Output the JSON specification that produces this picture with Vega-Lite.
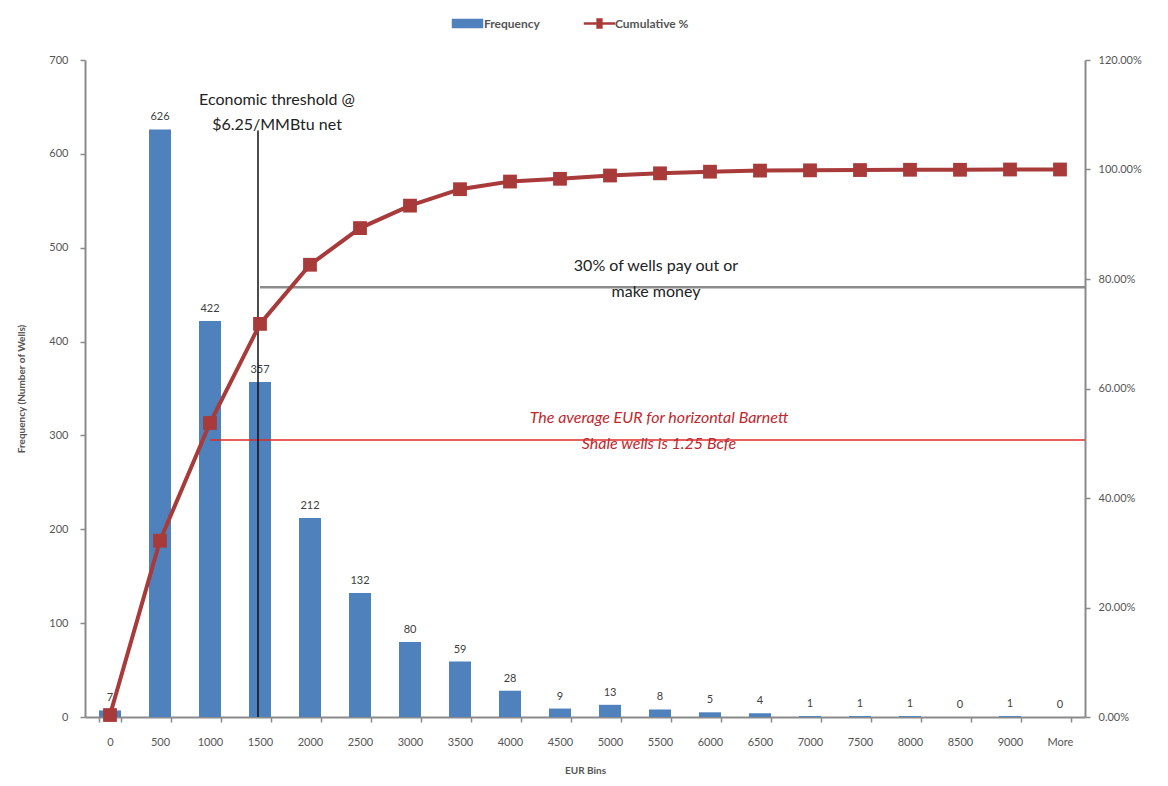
{
  "$schema": "https://vega.github.io/schema/vega-lite/v6.json",
  "width": 1000,
  "height": 657,
  "autosize": {"type": "none"},
  "padding": {"left": 85, "top": 60, "right": 83, "bottom": 69},
  "background": "white",
  "config": {
    "view": {"stroke": null},
    "font": "Lato",
    "axis": {"grid": false, "domainColor": "#8a8a8a", "domainWidth": 2, "tickColor": "#8a8a8a", "tickWidth": 1.5, "tickSize": 5, "labelColor": "#555555", "labelFont": "Lato", "labelFontSize": 11, "titleColor": "#555555", "titleFont": "Lato", "titleFontSize": 10, "titleFontWeight": "bold"}
  },
  "data": {"values": [
    {"bin": "0", "freq": 7, "cum": 0.0036},
    {"bin": "500", "freq": 626, "cum": 0.322},
    {"bin": "1000", "freq": 422, "cum": 0.537},
    {"bin": "1500", "freq": 357, "cum": 0.718},
    {"bin": "2000", "freq": 212, "cum": 0.826},
    {"bin": "2500", "freq": 132, "cum": 0.893},
    {"bin": "3000", "freq": 80, "cum": 0.934},
    {"bin": "3500", "freq": 59, "cum": 0.964},
    {"bin": "4000", "freq": 28, "cum": 0.978},
    {"bin": "4500", "freq": 9, "cum": 0.983},
    {"bin": "5000", "freq": 13, "cum": 0.989},
    {"bin": "5500", "freq": 8, "cum": 0.993},
    {"bin": "6000", "freq": 5, "cum": 0.996},
    {"bin": "6500", "freq": 4, "cum": 0.998},
    {"bin": "7000", "freq": 1, "cum": 0.9985},
    {"bin": "7500", "freq": 1, "cum": 0.999},
    {"bin": "8000", "freq": 1, "cum": 0.9995},
    {"bin": "8500", "freq": 0, "cum": 0.9995},
    {"bin": "9000", "freq": 1, "cum": 1.0},
    {"bin": "More", "freq": 0, "cum": 1.0}
  ]},
  "layer": [
    {
      "layer": [
        {
          "mark": {"type": "bar"},
          "encoding": {
            "x": {"field": "bin", "type": "nominal", "sort": null,
              "scale": {"type": "band", "paddingInner": 0.56, "paddingOuter": 0.28},
              "axis": {"title": "EUR Bins", "labelAngle": 0, "tickBand": "extent", "labelPadding": 14, "titlePadding": 18}},
            "y": {"field": "freq", "type": "quantitative",
              "scale": {"domain": [0, 700], "nice": false, "zero": true},
              "axis": {"title": "Frequency (Number of Wells)", "values": [0, 100, 200, 300, 400, 500, 600, 700], "labelPadding": 12, "titlePadding": 22}},
            "fill": {"datum": "Frequency", "type": "nominal",
              "scale": {"range": ["#4f81bd"]},
              "legend": {"orient": "none", "legendX": 372, "legendY": -47, "title": null,
                "symbolType": "M-1.5,-0.45H1.5V0.45H-1.5Z", "symbolSize": 440, "symbolStrokeWidth": 0,
                "labelFontSize": 12, "labelFontWeight": "bold", "labelColor": "#555555", "labelOffset": 6}}
          }
        },
        {
          "mark": {"type": "text", "baseline": "bottom", "dy": -7, "fontSize": 11, "color": "#404040"},
          "encoding": {
            "x": {"field": "bin", "type": "nominal", "sort": null},
            "y": {"field": "freq", "type": "quantitative"},
            "text": {"field": "freq", "type": "quantitative"}
          }
        },
        {
          "data": {"values": [{}]},
          "mark": {"type": "rule", "color": "#e02a2a", "strokeWidth": 1.5},
          "encoding": {
            "x": {"datum": "1000", "type": "nominal"},
            "x2": {"value": "width"},
            "y": {"datum": 295, "type": "quantitative"}
          }
        },
        {
          "data": {"values": [{}]},
          "mark": {"type": "rule", "color": "#8c8c8c", "strokeWidth": 2.5},
          "encoding": {
            "x": {"datum": "1500", "type": "nominal"},
            "x2": {"value": "width"},
            "y": {"datum": 458, "type": "quantitative"}
          }
        },
        {
          "data": {"values": [{}]},
          "mark": {"type": "rule", "color": "#111111", "strokeWidth": 1.5, "xOffset": -2},
          "encoding": {
            "x": {"datum": "1500", "type": "nominal"},
            "y": {"datum": 0, "type": "quantitative"},
            "y2": {"datum": 625}
          }
        },
        {
          "data": {"values": [{}]},
          "mark": {"type": "text", "text": ["Economic threshold @", "$6.25/MMBtu net"], "align": "center", "baseline": "middle", "lineHeight": 25, "fontSize": 16, "color": "#222222", "dx": 17},
          "encoding": {
            "x": {"datum": "1500", "type": "nominal"},
            "y": {"datum": 657, "type": "quantitative"}
          }
        },
        {
          "data": {"values": [{}]},
          "mark": {"type": "text", "text": ["30% of wells pay out or", "make money"], "align": "center", "baseline": "middle", "lineHeight": 26, "fontSize": 16, "color": "#222222", "dx": -4},
          "encoding": {
            "x": {"datum": "5500", "type": "nominal"},
            "y": {"datum": 480.5, "type": "quantitative"}
          }
        },
        {
          "data": {"values": [{}]},
          "mark": {"type": "text", "text": ["The average EUR for horizontal Barnett", "Shale wells is 1.25 Bcfe"], "align": "center", "baseline": "middle", "lineHeight": 26, "fontSize": 16, "fontStyle": "italic", "color": "#c0282e", "dx": -1},
          "encoding": {
            "x": {"datum": "5500", "type": "nominal"},
            "y": {"datum": 318.6, "type": "quantitative"}
          }
        }
      ]
    },
    {
      "mark": {"type": "line", "strokeWidth": 4, "point": {"shape": "square", "size": 190, "filled": true}},
      "encoding": {
        "x": {"field": "bin", "type": "nominal", "sort": null},
        "y": {"field": "cum", "type": "quantitative",
          "scale": {"domain": [0, 1.2], "nice": false},
          "axis": {"orient": "right", "title": null, "format": ".2%", "values": [0, 0.2, 0.4, 0.6, 0.8, 1.0, 1.2], "labelPadding": 8}},
        "color": {"datum": "Cumulative %", "type": "nominal",
          "scale": {"range": ["#a83a3a"]},
          "legend": {"orient": "none", "legendX": 504, "legendY": -47, "title": null,
            "symbolType": "M-1.5,-0.13H-0.3V-0.5H0.3V-0.13H1.5V0.13H0.3V0.5H-0.3V0.13H-1.5Z", "symbolSize": 440, "symbolStrokeWidth": 0, "symbolFillColor": "#a83a3a",
            "labelFontSize": 12, "labelFontWeight": "bold", "labelColor": "#555555", "labelOffset": 5}}
      }
    }
  ],
  "resolve": {"scale": {"y": "independent"}}
}
